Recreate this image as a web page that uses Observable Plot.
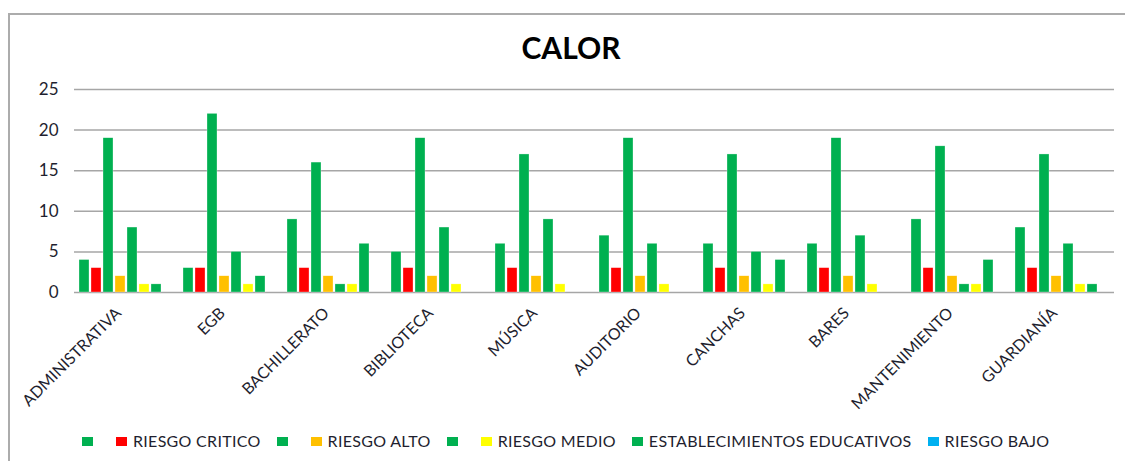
<!DOCTYPE html>
<html>
<head>
<meta charset="utf-8">
<script src="https://cdn.jsdelivr.net/npm/d3@7"></script>
<script src="https://cdn.jsdelivr.net/npm/@observablehq/plot@0.6"></script>
<style>
  html, body { margin: 0; padding: 0; background: #fff; }
  #wrap { position: relative; width: 1125px; height: 461px; overflow: hidden; font-family: Lato, "Open Sans", sans-serif; }
  #frame { position: absolute; left: 8px; top: 13px; right: 0; bottom: 0; border-left: 2px solid #acacac; border-top: 2px solid #acacac; }
  #title { position: absolute; left: 0; width: 1142px; top: 31px; text-align: center; font-weight: 700; font-size: 30px; line-height: 32px; color: #000; }
  #chart { position: absolute; left: 0; top: 0; }
  #legend { position: absolute; left: 82px; top: 432px; display: flex; align-items: center; font-size: 16px; letter-spacing: 0.3px; color: #1f1f2f; line-height: 18px; }
  .item { display: flex; align-items: center; margin-right: 16px; }
  .sw { width: 11px; height: 9px; margin-right: 6px; }
  g[aria-label="y-axis tick label"] text { font-size: 17px; }
</style>
</head>
<body>
<div id="wrap">
  <div id="frame"></div>
  <div id="chart"></div>
  <div id="title"></div>
  <div id="legend"></div>
</div>
<script>
const chartTitle = "CALOR";
const categories = ["ADMINISTRATIVA", "EGB", "BACHILLERATO", "BIBLIOTECA", "MÚSICA", "AUDITORIO", "CANCHAS", "BARES", "MANTENIMIENTO", "GUARDIANÍA"];
const seriesKeys = ["Serie1", "RIESGO CRITICO", "Serie3", "RIESGO ALTO", "Serie5", "RIESGO MEDIO", "ESTABLECIMIENTOS EDUCATIVOS", "RIESGO BAJO"];
const seriesLabels = ["", "RIESGO CRITICO", "", "RIESGO ALTO", "", "RIESGO MEDIO", "ESTABLECIMIENTOS EDUCATIVOS", "RIESGO BAJO"];
const seriesColors = ["#00B050", "#FF0000", "#00B050", "#FFC000", "#00B050", "#FFFF00", "#00B050", "#00B0F0"];

const serie1          = [4, 3, 9, 5, 6, 7, 6, 6, 9, 8];
const riesgoCritico   = [3, 3, 3, 3, 3, 3, 3, 3, 3, 3];
const serie3          = [19, 22, 16, 19, 17, 19, 17, 19, 18, 17];
const riesgoAlto      = [2, 2, 2, 2, 2, 2, 2, 2, 2, 2];
const serie5          = [8, 5, 1, 8, 9, 6, 5, 7, 1, 6];
const riesgoMedio     = [1, 1, 1, 1, 1, 1, 1, 1, 1, 1];
const establecimientos = [1, 2, 6, 0, 0, 0, 4, 0, 4, 1];
const riesgoBajo      = [0, 0, 0, 0, 0, 0, 0, 0, 0, 0];
const yTicks = [0, 5, 10, 15, 20, 25];

const seriesValues = [serie1, riesgoCritico, serie3, riesgoAlto, serie5, riesgoMedio, establecimientos, riesgoBajo];
const rows = [];
categories.forEach((c, i) => {
  seriesKeys.forEach((s, j) => rows.push({category: c, serie: s, value: seriesValues[j][i]}));
});

const plot = Plot.plot({
  width: 1125,
  height: 461,
  marginLeft: 73,
  marginRight: 11,
  marginTop: 89,
  marginBottom: 169,
  style: {fontFamily: "Lato, 'Open Sans', sans-serif", color: "#1f1f2f", background: "transparent"},
  fx: {domain: categories, padding: 0, label: null},
  x: {domain: seriesKeys, axis: null, paddingInner: 0.18, paddingOuter: 0.36},
  y: {domain: [0, 25], ticks: yTicks, tickSize: 0, tickPadding: 16, label: null},
  color: {domain: seriesKeys, range: seriesColors},
  marks: [
    Plot.ruleY(yTicks, {stroke: "#a6a6a6", strokeWidth: 1.5}),
    Plot.barY(rows, {fx: "category", x: "serie", y: "value", fill: "serie", stroke: "#ffffff", strokeWidth: 0.5, strokeOpacity: 0.6}),
    Plot.axisFx({anchor: "bottom", tickRotate: -45, tickSize: 0, tickPadding: 14, dx: -8, dy: 4, fontSize: 16, label: null})
  ]
});
document.getElementById("chart").appendChild(plot);
document.getElementById("title").textContent = chartTitle;

const legend = document.getElementById("legend");
seriesKeys.forEach((s, j) => {
  const item = document.createElement("div");
  item.className = "item";
  const sw = document.createElement("span");
  sw.className = "sw";
  sw.style.background = seriesColors[j];
  item.appendChild(sw);
  if (seriesLabels[j]) {
    const t = document.createElement("span");
    t.textContent = seriesLabels[j];
    item.appendChild(t);
  } else {
    sw.style.marginRight = "7px";
  }
  legend.appendChild(item);
});
</script>
</body>
</html>
